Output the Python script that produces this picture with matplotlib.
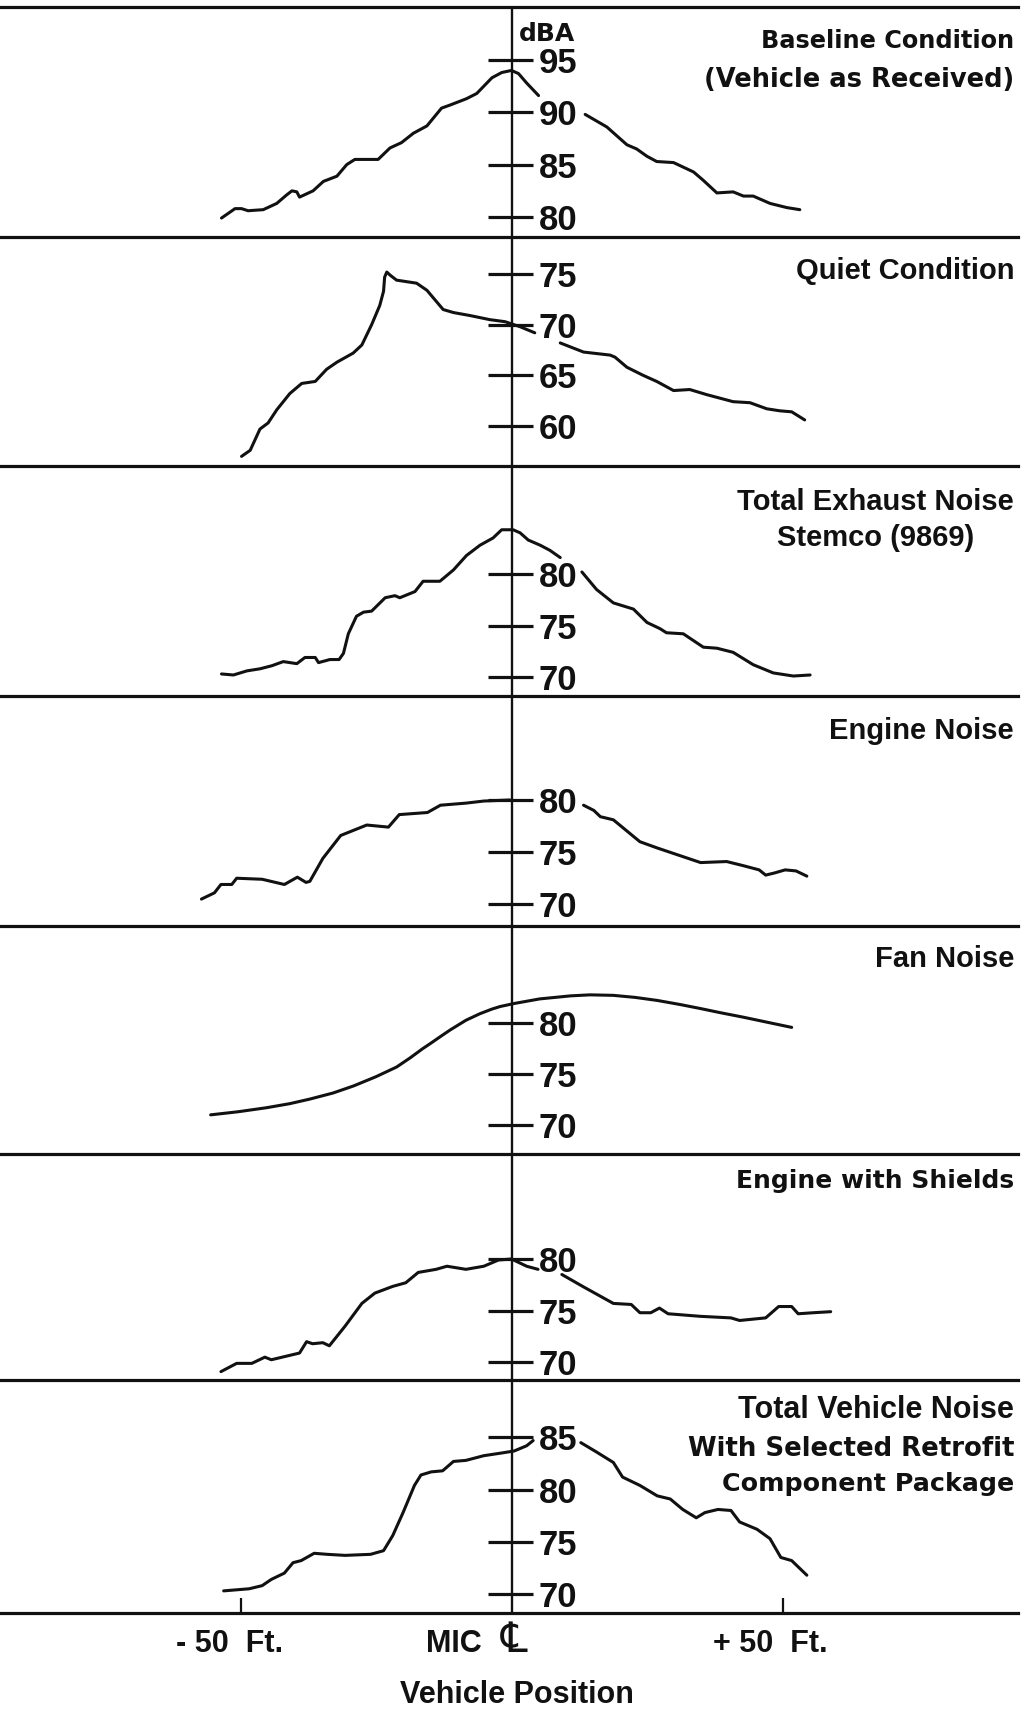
import numpy as np
import matplotlib.pyplot as plt

W, H = 1028, 1713          # canvas in pixels
RIGHT = 1018               # right end of the panel rules
MIC = 512                  # microphone centre line, pixels from left
PX_PER_FT = 5.42
INK = "#111111"

NARROW = ["Liberation Sans", "DejaVu Sans"]
HEAVY = ["DejaVu Sans"]

# Vehicle position (ft from the mic) and sound level (dBA) for each pass-by trace.
# Each trace is broken where it runs behind the scale numbers: left part, right part.
base_x_l = [-53.6, -51.1, -49.9, -48.7, -45.9, -43.4, -41.6, -40.6, -39.7, -39.2, -36.7, -34.8,
            -32.3, -30.5, -29.0, -24.7, -22.5, -20.4, -18.2, -15.7, -13.0, -11.4, -8.4, -6.5,
            -3.7, -1.9, -0.1, 1.2, 2.7, 4.9]
base_db_l = [79.9, 80.8, 80.8, 80.6, 80.7, 81.3, 82.1, 82.5, 82.4, 81.9, 82.5, 83.4,
             83.9, 85.0, 85.5, 85.5, 86.6, 87.1, 88.0, 88.7, 90.4, 90.7, 91.3, 91.8,
             93.3, 93.8, 94.0, 93.7, 92.8, 91.6]
base_x_r = [13.5, 17.5, 21.2, 23.0, 24.9, 26.7, 29.8, 33.5, 35.3, 37.8, 40.8, 42.7, 44.5, 47.6, 50.7, 53.1]
base_db_r = [89.8, 88.6, 86.9, 86.5, 85.8, 85.3, 85.2, 84.3, 83.5, 82.3, 82.4, 82.0, 82.0, 81.3, 80.9, 80.7]

quiet_x_l = [-49.9, -48.3, -46.5, -45.0, -43.4, -41.0, -38.8, -36.3, -34.2, -32.3, -29.3, -27.7,
             -25.9, -24.4, -23.7, -23.5, -23.1, -22.5, -21.3, -17.6, -15.7, -12.7, -10.8, -7.7,
             -4.1, -1.3, 1.5, 4.2]
quiet_db_l = [57.0, 57.6, 59.7, 60.3, 61.6, 63.2, 64.2, 64.4, 65.6, 66.3, 67.2, 68.0,
              70.0, 71.9, 73.3, 74.7, 75.2, 74.9, 74.4, 74.1, 73.4, 71.5, 71.2, 70.9,
              70.5, 70.3, 69.8, 69.2]
quiet_x_r = [8.9, 13.2, 18.1, 19.0, 21.2, 24.2, 26.7, 29.8, 32.8, 35.9, 40.8, 43.9, 47.0, 49.4, 51.6, 54.0]
quiet_db_r = [68.2, 67.3, 67.0, 66.8, 65.8, 65.0, 64.4, 63.5, 63.6, 63.1, 62.4, 62.3, 61.7, 61.5, 61.4, 60.6]

exh_x_l = [-53.6, -51.4, -48.9, -46.5, -44.3, -42.2, -39.7, -38.2, -36.3, -35.7, -33.6, -31.9,
           -31.1, -30.2, -28.7, -27.4, -25.9, -23.4, -21.6, -20.7, -17.9, -16.4, -13.3, -10.8,
           -8.4, -5.9, -3.5, -1.9, 0.2, 1.5, 3.0, 5.2, 7.0, 8.9]
exh_db_l = [70.3, 70.2, 70.6, 70.8, 71.1, 71.5, 71.3, 71.9, 71.9, 71.4, 71.7, 71.7,
            72.3, 74.2, 75.9, 76.3, 76.4, 77.7, 77.9, 77.7, 78.3, 79.3, 79.3, 80.4,
            81.8, 82.8, 83.5, 84.3, 84.3, 84.0, 83.3, 82.8, 82.3, 81.6]
exh_x_r = [12.9, 15.6, 18.7, 22.4, 24.9, 27.3, 28.5, 31.6, 35.3, 37.8, 40.8, 44.5, 48.2, 51.9, 55.0]
exh_db_r = [80.2, 78.5, 77.2, 76.6, 75.3, 74.7, 74.3, 74.2, 72.9, 72.8, 72.4, 71.2, 70.4, 70.1, 70.2]

eng_x_l = [-57.3, -54.9, -53.7, -51.7, -50.8, -46.1, -42.0, -39.6, -38.0, -37.3, -34.9, -31.6,
           -29.2, -26.8, -22.8, -20.8, -15.6, -13.2, -8.5, -5.2, -0.4]
eng_db_l = [70.5, 71.1, 71.9, 71.9, 72.5, 72.4, 71.9, 72.6, 72.1, 72.2, 74.4, 76.6,
            77.1, 77.6, 77.4, 78.6, 78.8, 79.5, 79.7, 79.9, 80.0]
eng_x_r = [13.2, 15.1, 16.3, 18.7, 23.6, 26.8, 30.8, 34.8, 39.6, 42.7, 45.6, 46.8, 48.4, 50.4, 52.4, 54.4]
eng_db_r = [79.5, 79.0, 78.4, 78.1, 76.0, 75.4, 74.7, 74.0, 74.1, 73.7, 73.3, 72.8, 73.0, 73.3, 73.2, 72.7]

fan_x = [-55.6, -50.6, -45.3, -41.0, -37.3, -33.0, -29.2, -25.1, -21.3, -18.8, -16.5, -15.1,
         -13.2, -11.4, -8.5, -5.9, -3.7, -2.2, 0.4, 5.1, 10.8, 14.4, 18.7, 22.7, 26.8, 31.0,
         34.8, 38.4, 42.7, 46.7, 51.6]
fan_db = [71.0, 71.3, 71.7, 72.1, 72.55, 73.15, 73.85, 74.75, 75.7, 76.6, 77.5, 78.0,
          78.7, 79.35, 80.3, 80.95, 81.4, 81.65, 81.95, 82.4, 82.7, 82.8, 82.75, 82.55, 82.25, 81.85,
          81.45, 81.05, 80.6, 80.15, 79.6]

shd_x_l = [-53.7, -50.8, -48.0, -45.6, -44.4, -39.2, -37.9, -36.8, -34.9, -33.7, -30.8, -27.7,
           -25.3, -22.0, -19.6, -17.3, -14.0, -12.0, -8.5, -5.2, -2.5, -0.1, 2.7, 4.8]
shd_db_l = [69.1, 69.9, 69.9, 70.5, 70.25, 70.9, 72.0, 71.8, 71.9, 71.6, 73.5, 75.7,
            76.7, 77.35, 77.7, 78.7, 79.0, 79.3, 79.0, 79.3, 79.9, 80.0, 79.3, 79.0]
shd_x_r = [9.2, 13.2, 18.7, 22.0, 23.6, 25.6, 27.2, 28.8, 34.8, 40.4, 42.0, 46.8, 49.2, 51.6, 52.8, 55.6, 58.8]
shd_db_r = [78.5, 77.3, 75.7, 75.6, 74.8, 74.8, 75.25, 74.7, 74.45, 74.3, 74.05, 74.3, 75.4, 75.4, 74.7, 74.8, 74.9]

tot_x_l = [-53.2, -48.5, -46.1, -44.4, -42.0, -40.4, -38.9, -36.5, -34.1, -30.8, -26.1, -23.7,
           -22.0, -20.1, -18.0, -16.8, -14.9, -12.8, -10.8, -8.5, -5.2, -2.0, 0.4, 2.7, 3.9]
tot_db_l = [70.3, 70.5, 70.8, 71.4, 72.0, 73.0, 73.2, 73.9, 73.8, 73.7, 73.8, 74.15,
            75.6, 77.8, 80.4, 81.4, 81.7, 81.8, 82.7, 82.8, 83.25, 83.5, 83.7, 84.2, 84.7]
tot_x_r = [12.7, 15.6, 18.7, 20.4, 23.6, 26.8, 29.2, 31.5, 34.0, 35.6, 38.0, 40.4, 42.0, 45.2,
           47.6, 49.6, 51.6, 54.4]
tot_db_r = [84.5, 83.6, 82.6, 81.2, 80.4, 79.4, 79.1, 78.1, 77.3, 77.8, 78.1, 78.0, 76.9, 76.2,
            75.3, 73.5, 73.2, 71.8]

# scale numbers printed beside the centre line of each panel
base_ticks = [95, 90, 85, 80]
quiet_ticks = [75, 70, 65, 60]
exh_ticks = [80, 75, 70]
eng_ticks = [80, 75, 70]
fan_ticks = [80, 75, 70]
shd_ticks = [80, 75, 70]
tot_ticks = [85, 80, 75, 70]

pos_ticks = [-50, 50]
pos_labels = ["- 50  Ft.", "+ 50  Ft."]

fig = plt.figure(figsize=(W / 100, H / 100), dpi=100)
fig.patch.set_facecolor("white")


def make_panel(top, bottom, ylim):
    ax = fig.add_axes([0, 1 - bottom / H, RIGHT / W, (bottom - top) / H])
    ax.set_xlim(-MIC / PX_PER_FT, (RIGHT - MIC) / PX_PER_FT)
    ax.set_ylim(*ylim)
    for side in ("left", "right", "top"):
        ax.spines[side].set_visible(False)
    ax.spines["bottom"].set_linewidth(2.3)
    ax.spines["bottom"].set_color(INK)
    ax.set_xticks([])
    ax.set_yticks([])
    ax.patch.set_alpha(0)
    ax.axvline(0, color=INK, lw=1.7, zorder=1)
    return ax


def scale(ax, ticks):
    ax.hlines(ticks, -24 / PX_PER_FT, 21 / PX_PER_FT, color=INK, lw=2.3, zorder=2)
    for t in ticks:
        ax.text(27 / PX_PER_FT, t, str(t), ha="left", va="center_baseline",
                fontsize=25, family=NARROW, weight="bold", color=INK)


def trace(ax, xl, yl, xr=None, yr=None):
    x, y = list(xl), list(yl)
    if xr is not None:
        x += [np.nan] + list(xr)
        y += [np.nan] + list(yr)
    ax.plot(x, y, color=INK, lw=2.2, solid_capstyle="round", solid_joinstyle="round", zorder=3)


def title(y_px, text, size, family, **kw):
    fig.text(1014 / W, 1 - y_px / H, text, ha="right", va="center", fontsize=size,
             family=family, weight="bold", color=INK, **kw)


# panel 1: baseline
ax = make_panel(7, 237, (78.09, 100.06))
ax.spines["top"].set_visible(True)
ax.spines["top"].set_linewidth(2.3)
ax.spines["top"].set_color(INK)
scale(ax, base_ticks)
trace(ax, base_x_l, base_db_l, base_x_r, base_db_r)
ax.text(35.5 / PX_PER_FT, 97.5, "dBA", ha="center", va="center", fontsize=18,
        family=HEAVY, weight="bold", color=INK)
title(41, "Baseline Condition", 17.3, HEAVY)
title(80, "(Vehicle as Received)", 18.5, HEAVY)

# panel 2: quiet
ax = make_panel(237, 466, (56.05, 78.66))
scale(ax, quiet_ticks)
trace(ax, quiet_x_l, quiet_db_l, quiet_x_r, quiet_db_r)
title(271, "Quiet Condition", 21, NARROW)

# panel 3: exhaust
ax = make_panel(466, 696, (68.16, 90.49))
scale(ax, exh_ticks)
trace(ax, exh_x_l, exh_db_l, exh_x_r, exh_db_r)
title(520, "Total Exhaust Noise\nStemco (9869)", 21, NARROW, multialignment="center",
      linespacing=1.4)

# panel 4: engine
ax = make_panel(696, 926, (67.92, 89.97))
scale(ax, eng_ticks)
trace(ax, eng_x_l, eng_db_l, eng_x_r, eng_db_r)
title(731, "Engine Noise", 21, NARROW)

# panel 5: fan
ax = make_panel(926, 1154, (67.15, 89.57))
scale(ax, fan_ticks)
trace(ax, fan_x, fan_db)
title(959, "Fan Noise", 21, NARROW)

# panel 6: engine with shields
ax = make_panel(1154, 1380, (68.29, 90.16))
scale(ax, shd_ticks)
trace(ax, shd_x_l, shd_db_l, shd_x_r, shd_db_r)
title(1181, "Engine with Shields", 18, HEAVY)

# panel 7: total vehicle with retrofit package
ax = make_panel(1380, 1613, (68.18, 90.5))
scale(ax, tot_ticks)
trace(ax, tot_x_l, tot_db_l, tot_x_r, tot_db_r)
title(1410, "Total Vehicle Noise", 22, NARROW)
title(1449, "With Selected Retrofit", 18.7, HEAVY)
title(1484, "Component Package", 18.3, HEAVY)

ax.set_xticks(pos_ticks)
ax.set_xticklabels([])
ax.tick_params(axis="x", direction="in", length=11, width=1.6, color=INK)

# labels under the position axis
for px, label in zip((230, 770), pos_labels):
    fig.text(px / W, 1 - 1644 / H, label, ha="center", va="center", fontsize=22,
             family=NARROW, weight="bold", color=INK)
fig.text(482 / W, 1 - 1644 / H, "MIC", ha="right", va="center", fontsize=22,
         family=NARROW, weight="bold", color=INK)
fig.text((MIC + 2) / W, 1 - 1640 / H, "\u2104", ha="center", va="center", fontsize=30,
         family=HEAVY, color=INK)
fig.text(517 / W, 1 - 1695 / H, "Vehicle Position", ha="center", va="center", fontsize=22,
         family=NARROW, weight="bold", color=INK)

fig.savefig("out.png", dpi=100, facecolor="white")
